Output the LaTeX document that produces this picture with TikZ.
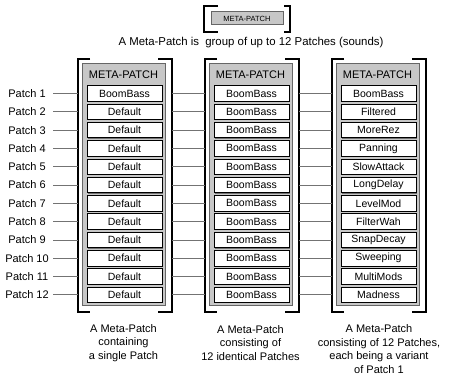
\documentclass[tikz,border=0pt]{standalone}
\usepackage{fontspec}
\setmainfont{Liberation Sans}
\usetikzlibrary{shadows}
\begin{document}
\begin{tikzpicture}[x=1pt,y=-1pt,
  bracket/.style={line width=1.4pt, black},
  grayblock/.style={draw=black!60, line width=1pt, fill=black!22, inner sep=0pt},
  slot/.style={draw=black, line width=0.8pt, fill=white, minimum width=75pt, minimum height=15.5pt, inner sep=0pt,
     font=\fontsize{10.5}{12}\selectfont,
     drop shadow={shadow xshift=0.9pt, shadow yshift=-0.9pt, fill=black!55, opacity=1}},
  conn/.style={draw=black!55, line width=0.8pt},
  lbl/.style={font=\fontsize{11}{13}\selectfont, inner sep=0pt},
  hdr/.style={font=\fontsize{11}{13}\selectfont, inner sep=0pt},
  captxt/.style={font=\fontsize{11}{13.5}\selectfont, align=center, inner sep=0pt}]
\useasboundingbox (0,0) rectangle (449,374);

% top legend
\node[grayblock, minimum width=72pt, minimum height=13pt, font=\fontsize{7.5}{9}\selectfont] (top) at (247,18.5) {META-PATCH};
\draw[bracket] (218,6) -| (204,32) -- (218,32);
\draw[bracket] (284,6) -| (290,32) -- (284,32);
\node[lbl, font=\fontsize{11.4}{13}\selectfont] (intro) at (251,43) {A Meta-Patch is\ \ group of up to 12 Patches (sounds)};

% columns
\foreach \c/\gx in {1/82,2/209,3/336}{
  \node[grayblock, minimum width=83pt, minimum height=242pt, anchor=north west] (g\c) at (\gx,63) {};
  \node[hdr] (h\c) at (\gx+41.5,75) {META-PATCH};
  \draw[bracket] (\gx+8,59) -| (\gx-4,312) -- (\gx+8,312);
  \draw[bracket] (\gx+76,59) -| (\gx+90,312) -- (\gx+76,312);
  \foreach \i in {1,...,12}{
    \coordinate (L\c-\i) at (\gx-4,93.5+18.3*\i-18.3);
    \coordinate (R\c-\i) at (\gx+90,93.5+18.3*\i-18.3);
  }
}
\foreach \i/\t in {1/BoomBass,2/Default,3/Default,4/Default,5/Default,6/Default,7/Default,8/Default,9/Default,10/Default,11/Default,12/Default}{
  \node[slot] (s1-\i) at (124.5,93.5+18.3*\i-18.3) {\t};
}
\foreach \i in {1,...,12}{
  \node[slot] (s2-\i) at (251.5,93.5+18.3*\i-18.3) {BoomBass};
}
\foreach \i/\t in {1/BoomBass,2/Filtered,3/MoreRez,4/Panning,5/SlowAttack,6/LongDelay,7/LevelMod,8/FilterWah,9/SnapDecay,10/Sweeping,11/MultiMods,12/Madness}{
  \node[slot] (s3-\i) at (378.5,93.5+18.3*\i-18.3) {\t};
}

% patch labels and connectors
\foreach \i in {1,...,12}{
  \node[lbl] (p\i) at (27,93.5+18.3*\i-18.3) {Patch \i};
  \coordinate (a\i) at (53,93.5+18.3*\i-18.3);
  \draw[conn] (a\i) -- (L1-\i);
  \draw[conn] (R1-\i) -- (L2-\i);
  \draw[conn] (R2-\i) -- (L3-\i);
}

% captions
\node[captxt] (c1) at (123.5,343) {A Meta-Patch\\containing\\a single Patch};
\node[captxt] (c2) at (250.5,343) {A Meta-Patch\\consisting of\\12 identical Patches};
\node[captxt] (c3) at (379,349) {A Meta-Patch\\consisting of 12 Patches,\\each being a variant\\of Patch 1};
\end{tikzpicture}
\end{document}
